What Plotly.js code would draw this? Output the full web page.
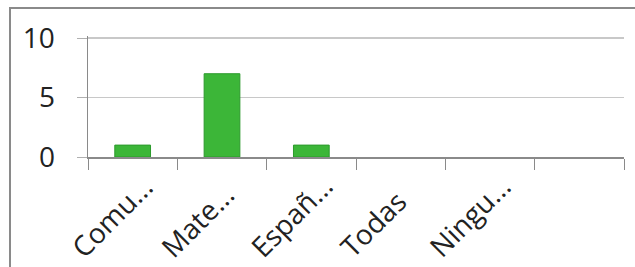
<!DOCTYPE html>
<html><head><meta charset="utf-8">
<script src="https://cdn.plot.ly/plotly-3.0.1.min.js"></script>
<style>
html,body{margin:0;padding:0;background:#fff;}
#wrap{position:relative;width:635px;height:267px;overflow:hidden;}
#chart{position:absolute;left:0;top:0;width:635px;height:267px;}
#frame{position:absolute;left:9px;top:7px;width:640px;height:280px;border-left:2px solid #8a8a8a;border-top:2px solid #8a8a8a;pointer-events:none;}
</style></head>
<body><div id="wrap"><div id="chart"></div><div id="frame"></div></div>
<script>
const categories = ['Comu...', 'Mate...', 'Españ...', 'Todas', 'Ningu...', ' '];
const values = [1, 7, 1, 0, 0, 0];
const yTicks = [0, 5, 10];

const labelAnnotations = categories.map(c => ({
  x: c, xref: 'x', y: 0, yref: 'paper',
  text: c, showarrow: false, textangle: -45,
  xanchor: 'left', yanchor: 'bottom', xshift: -72, yshift: -111,
  font: {family: 'Open Sans, Liberation Sans, sans-serif', size: 28, color: '#222'}
}));

Plotly.newPlot('chart', [{
  type: 'bar', x: categories, y: values,
  marker: {color: '#3cb638', line: {color: '#2c9a2c', width: values.map(v => v > 0 ? 1 : 0)}},
  hoverinfo: 'none'
}], {
  width: 635, height: 267,
  margin: {l: 88, r: 11, t: 36, b: 110},
  paper_bgcolor: 'rgba(0,0,0,0)', plot_bgcolor: '#fff',
  bargap: 0.6, showlegend: false,
  font: {family: 'Open Sans, Liberation Sans, sans-serif', color: '#222'},
  annotations: labelAnnotations,
  xaxis: {
    type: 'category', showticklabels: false, autorange: false,
    range: [-0.5, categories.length - 0.5],
    showline: true, linecolor: '#8a8a8a', linewidth: 1.5,
    ticks: 'outside', ticklen: 11, tickcolor: '#8a8a8a', tickson: 'boundaries',
    showgrid: false
  },
  yaxis: {
    range: [0, 10.17], autorange: false, tickvals: yTicks, ticktext: yTicks.map(String),
    showline: true, linecolor: '#8a8a8a', linewidth: 1.5,
    ticks: 'outside', ticklen: 10, tickcolor: '#b0b0b0',
    showgrid: true, gridcolor: '#c8c8c8', gridwidth: 1.5,
    zeroline: false, tickfont: {size: 28, color: '#222'}, ticklabelstandoff: 16
  }
}, {staticPlot: true});
</script></body></html>
